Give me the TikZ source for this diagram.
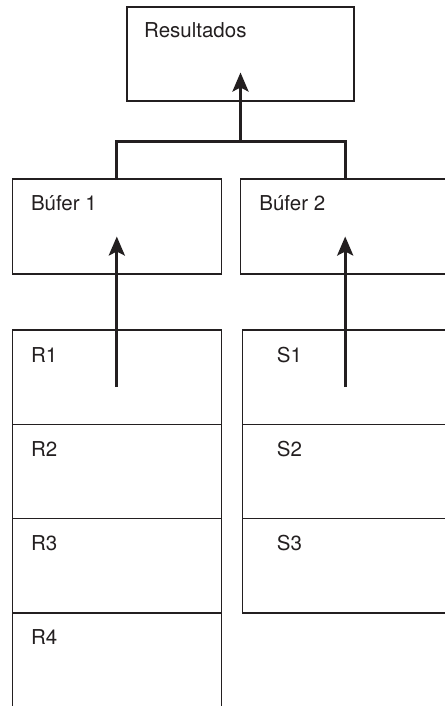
\documentclass[tikz,border=0pt]{standalone}
\usepackage{fontspec}
\setmainfont{TeX Gyre Heros}
\usetikzlibrary{positioning,arrows.meta}
\definecolor{ink}{RGB}{35,31,32}
\begin{document}
\begin{tikzpicture}[x=1pt, y=-1pt, >={Stealth[length=19pt,width=16pt,inset=4pt]},
    box/.style={draw=ink, line width=1.4pt, anchor=north west, inner sep=0pt, outer sep=0pt,
        minimum width=209pt, minimum height=94.3pt},
    tag/.style={anchor=base west, inner sep=0pt, text=ink, font=\fontsize{20.5pt}{24pt}\selectfont},
    link/.style={draw=ink, line width=3pt}]
    \useasboundingbox (0,0) rectangle (444,706);

    % Results
    \node[box, minimum width=227pt, minimum height=94pt] (res) at (127,7) {};
    \node[tag] (restag) at ([shift={(17,31)}]res.north west) {Resultados};

    % Buffers
    \node[box, minimum height=95pt] (buf1) at (12.3,179) {};
    \node[box, minimum height=95pt, right=19.4pt of buf1] (buf2) {};
    \node[tag] (buf1tag) at ([shift={(18.5,31)}]buf1.north west) {Búfer 1};
    \node[tag] (buf2tag) at ([shift={(18.5,31)}]buf2.north west) {Búfer 2};

    % R blocks
    \node[box] (r1) at (12.3,330) {};
    \node[box, below=0pt of r1] (r2) {};
    \node[box, below=0pt of r2] (r3) {};
    \node[box, below=0pt of r3] (r4) {};
    \foreach \i in {1,...,4}
        \node[tag] (r\i tag) at ([shift={(18.5,32)}]r\i.north west) {R\i};

    % S blocks
    \node[box, right=21.4pt of r1] (s1) {};
    \node[box, below=0pt of s1] (s2) {};
    \node[box, below=0pt of s2] (s3) {};
    \foreach \i in {1,...,3}
        \node[tag] (s\i tag) at ([shift={(34,32)}]s\i.north west) {S\i};

    % Arrows
    \coordinate (s1in) at ([yshift=-10pt]s1.center);
    \draw[link, ->] ([yshift=-10pt]r1.center) -- ([yshift=-10pt]buf1.center);
    \draw[link, ->] (buf2.center |- s1in) -- ([yshift=-10pt]buf2.center);
    \coordinate (joint) at ([yshift=-40pt]res.south);
    \draw[link] (buf1.north) |- (joint) -| (buf2.north);
    \draw[link, ->] (joint) -- ([yshift=-18.5pt]res.center);
\end{tikzpicture}
\end{document}
